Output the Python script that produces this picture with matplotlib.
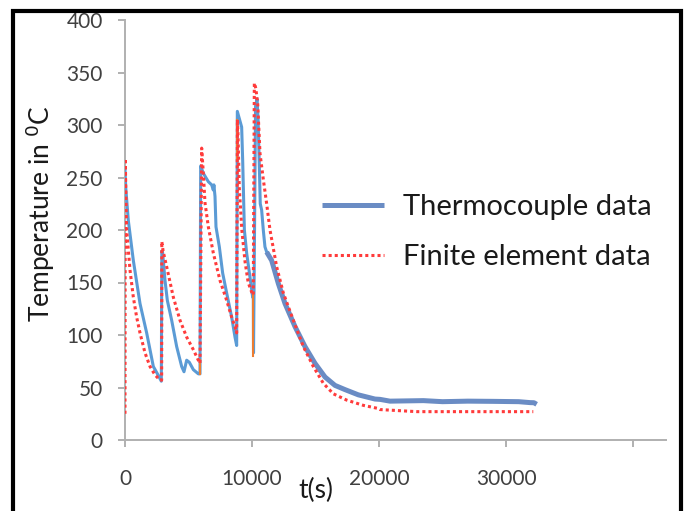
import numpy as np
import matplotlib.pyplot as plt
from matplotlib.patches import Rectangle

# thermocouple, first (thin) part of the record
tc_t1 = [0, 60, 262, 656, 1181, 1706, 2231, 2600, 2860, 2900, 2966, 3150, 3333, 3675,
         4068, 4462, 4646, 4856, 5066, 5381, 5774, 5906, 5958, 6168, 6562, 6824,
         6955, 7000, 7087, 7165, 7428, 7690, 8005, 8399, 8661, 8793, 8845, 9186,
         9265, 9400, 9580, 9843, 10052, 10105, 10120, 10200, 10280, 10400, 10480,
         10580, 10650, 10760, 10890, 11020, 11155]
tc_T1 = [258, 240, 209, 171, 130, 102, 70, 62, 56, 180, 178, 152, 133, 114,
         89, 70, 65, 76, 74, 67, 63, 63, 261, 254, 246, 243,
         238, 243, 232, 203, 184, 159, 140, 117, 98, 90, 313, 298,
         267, 200, 178, 155, 136, 136, 83, 200, 318, 325, 305,
         260, 225, 219, 200, 184, 179]

# thermocouple, cooling tail (drawn thicker)
tc_t2 = [11155, 11549, 12074, 12598, 13386, 14173, 14961, 15748, 16535, 17322,
         18373, 19685, 20079, 20866, 23500, 25000, 27000, 29000, 31000, 31900,
         32200, 32415]
tc_T2 = [179, 171, 149, 130, 108, 89, 73, 60, 52, 48,
         43, 39, 38.7, 37, 37.5, 36.5, 37, 36.8, 36.5, 35.6,
         35.5, 34]

# finite element results
fe_t = [0, 20, 100, 131, 393, 656, 918, 1181, 1575, 1969, 2362, 2756, 2887,
        2900, 3000, 3281, 3806, 4331, 4856, 5381, 5774, 5906, 6037, 6168,
        6299, 6562, 6955, 7480, 8005, 8399, 8661, 8793, 8850, 8900, 9000,
        9200, 9450, 9700, 10000, 10100, 10184, 10300, 10450, 10630, 10893,
        11155, 11417, 11942, 12467, 13255, 14042, 14829, 15617, 16404, 17454,
        18766, 19947, 20079, 21500, 23000, 26000, 29000, 32150]
fe_T = [25, 268, 215, 200, 162, 136, 117, 102, 83, 70, 62, 57, 57,
        189, 180, 165, 136, 114, 98, 86, 76, 73, 278, 254,
        226, 203, 178, 152, 133, 117, 108, 102, 305, 290, 240,
        200, 170, 150, 140, 138, 340, 335, 320, 273, 248,
        225, 200, 165, 140, 114, 89, 70, 54, 44, 38,
        33, 30, 29, 28, 27, 27, 27, 27]

# short orange pieces at the heating steps
or_t = [5906, 5906, np.nan, 8790, 8790, np.nan, 10110, 10110]
or_T = [63, 76, np.nan, 267, 305, np.nan, 80, 140]

x_ticks = [0, 10000, 20000, 30000, 40000]
x_labels = ['0', '10000', '20000', '30000', '']
y_ticks = [0, 50, 100, 150, 200, 250, 300, 350, 400]

plt.rcParams['font.family'] = ['Lato', 'DejaVu Sans']

fig = plt.figure(figsize=(6.86, 5.11), dpi=100)
ax = fig.add_axes([125 / 686, 1 - 440 / 511, 541 / 686, 420 / 511])

ax.plot(tc_t1, tc_T1, color='#5b9bd5', lw=2.2, zorder=3)
ax.plot(or_t, or_T, color='#ed7d31', lw=1.5, zorder=4)
tc_line, = ax.plot(tc_t2, tc_T2, color='#6a8cc4', lw=3.6, zorder=3,
                   solid_capstyle='butt')
fe_line, = ax.plot(fe_t, fe_T, color='#ff3b3b', lw=2.2, ls=(0, (1, 1)), zorder=5)

ax.set_xlim(0, 42600)
ax.set_ylim(0, 400)
ax.set_xticks(x_ticks)
ax.set_xticklabels(x_labels)
ax.set_yticks(y_ticks)

for s in ['top', 'right']:
    ax.spines[s].set_visible(False)
for s in ['left', 'bottom']:
    ax.spines[s].set_color('#b0b0b0')
    ax.spines[s].set_linewidth(1.4)
ax.tick_params(axis='both', colors='#b0b0b0', width=1.4, length=5,
               labelcolor='#404040', labelsize=15)
ax.tick_params(axis='x', pad=16)
ax.tick_params(axis='y', pad=11)

ax.set_ylabel('Temperature in $^{0}$C', fontsize=19, color='#1a1a1a')
ax.yaxis.set_label_coords(-0.125, 0.54)
ax.set_xlabel('t(s)', fontsize=19, color='#1a1a1a')
ax.xaxis.set_label_coords(0.353, -0.09)

leg = ax.legend([tc_line, fe_line], ['Thermocouple data', 'Finite element data'],
                loc='upper left', bbox_to_anchor=(296 / 686, 1 - 168 / 511),
                bbox_transform=fig.transFigure, frameon=False, fontsize=21,
                handlelength=2.1, handletextpad=0.68, labelspacing=0.82)
for t in leg.get_texts():
    t.set_color('#1a1a1a')

# black frame of the original picture (open at the bottom)
fig.patches.append(Rectangle((13 / 686, -0.1), 668 / 686, 1.1 - 11 / 511,
                             transform=fig.transFigure, fill=False,
                             edgecolor='black', lw=3, clip_on=False))

fig.savefig('out.png', dpi=100)
